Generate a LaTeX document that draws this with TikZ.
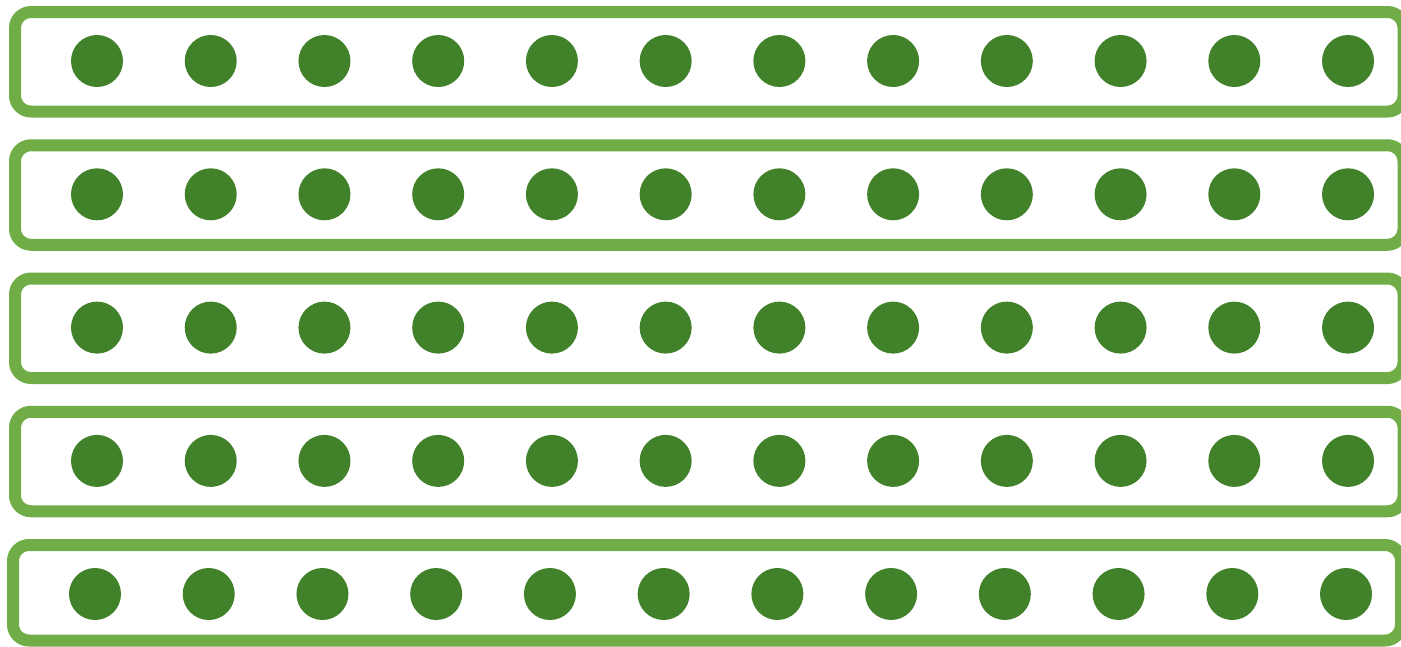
\documentclass[tikz,border=0pt]{standalone}
\begin{document}
\begin{tikzpicture}[x=1pt,y=-1pt,
  rowbox/.style={draw=boxgreen, line width=12pt, rounded corners=16pt, inner sep=0pt, fill=none},
  dot/.style={circle, fill=dotgreen, draw=none, minimum size=52pt, inner sep=0pt}]
\definecolor{boxgreen}{HTML}{70AD47}
\definecolor{dotgreen}{HTML}{41812A}
\useasboundingbox (0,0) rectangle (1401,646);
\begin{scope}
\clip (0,0) rectangle (1401,646);
\foreach \r in {0,1,2,3} {
  \node[rowbox, minimum width=1388.5pt, minimum height=99.5pt] (row\r) at (709.25, {61.75+133.25*\r}) {};
  \foreach \c in {0,...,11} {
    \node[dot] (d\r-\c) at ({97+113.73*\c}, {61+133.3*\r}) {};
  }
}
\node[rowbox, minimum width=1388pt, minimum height=95.5pt] (row4) at (707, 592.75) {};
\foreach \c in {0,...,11} {
  \node[dot] (d4-\c) at ({95+113.73*\c}, 594) {};
}
\end{scope}
\end{tikzpicture}
\end{document}
